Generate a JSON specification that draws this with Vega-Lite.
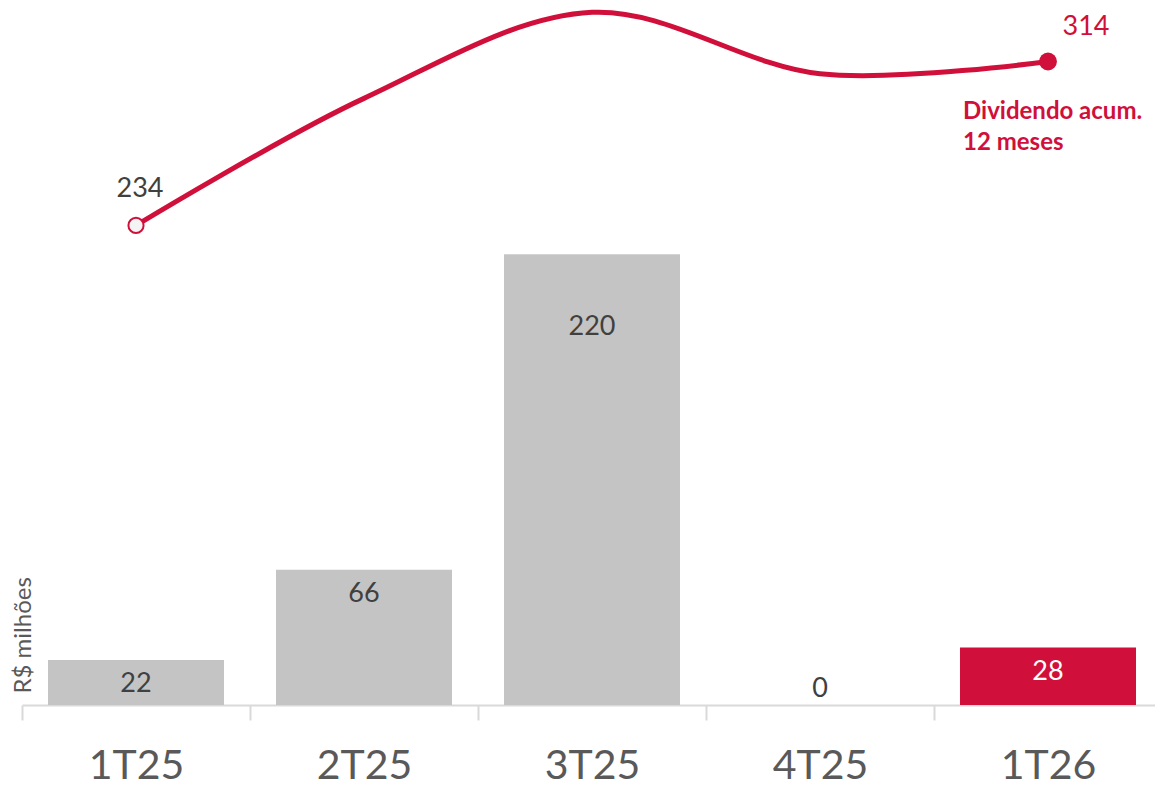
{
  "$schema": "https://vega.github.io/schema/vega-lite/v6.json",
  "autosize": "none",
  "width": 1140,
  "height": 705,
  "padding": {"left": 22, "top": 0, "right": 0, "bottom": 81},
  "background": "white",
  "config": {"view": {"stroke": null}, "font": "Lato"},
  "data": {"values": [
    {"q": "1T25", "div": 22, "acum": 234},
    {"q": "2T25", "div": 66, "acum": 296},
    {"q": "3T25", "div": 220, "acum": 338},
    {"q": "4T25", "div": 0, "acum": 308},
    {"q": "1T26", "div": 28, "acum": 314}
  ]},
  "encoding": {
    "x": {"field": "q", "type": "nominal", "sort": null,
      "scale": {"paddingInner": 0, "paddingOuter": 0},
      "axis": {"title": null, "labelAngle": 0, "labelFontSize": 41, "labelColor": "#595959", "labelFont": "Lato",
        "domainColor": "#d9d9d9", "domainWidth": 2, "tickColor": "#d9d9d9", "tickWidth": 2, "tickSize": 15,
        "tickBand": "extent", "labelPadding": 26}}
  },
  "layer": [
    {
      "mark": {"type": "bar", "width": {"band": 0.772}},
      "encoding": {
        "y": {"field": "div", "type": "quantitative", "scale": {"domain": [0, 344], "nice": false, "zero": true},
          "axis": {"title": "R$ milhões", "labels": false, "ticks": false, "domain": false, "grid": false,
            "titleFontSize": 24, "titleFontWeight": "normal", "titleColor": "#595959", "titleFont": "Lato",
            "titleAngle": 270, "titleX": 1, "titleY": 693, "titleAlign": "left", "titleBaseline": "middle"}},
        "color": {"condition": {"test": "datum.q === '1T26'", "value": "#D0103A"}, "value": "#C4C4C4"}
      }
    },
    {
      "transform": [{"filter": "datum.div > 0 && datum.div < 200"}],
      "mark": {"type": "text", "fontSize": 27, "baseline": "middle", "dy": 24},
      "encoding": {
        "y": {"field": "div", "type": "quantitative"},
        "text": {"field": "div"},
        "color": {"condition": {"test": "datum.q === '1T26'", "value": "#FFFFFF"}, "value": "#404040"}
      }
    },
    {
      "transform": [{"filter": "datum.div >= 200"}],
      "mark": {"type": "text", "fontSize": 27, "baseline": "middle", "dy": 73, "color": "#404040"},
      "encoding": {
        "y": {"field": "div", "type": "quantitative"},
        "text": {"field": "div"}
      }
    },
    {
      "transform": [{"filter": "datum.div == 0"}],
      "mark": {"type": "text", "fontSize": 27, "baseline": "middle", "dy": -16, "color": "#404040"},
      "encoding": {
        "y": {"field": "div", "type": "quantitative"},
        "text": {"field": "div"}
      }
    },
    {
      "mark": {"type": "line", "interpolate": "catmull-rom", "color": "#D0103A", "strokeWidth": 5, "strokeCap": "round"},
      "encoding": {"y": {"field": "acum", "type": "quantitative"}}
    },
    {
      "transform": [{"filter": "datum.q === '1T25'"}],
      "mark": {"type": "point", "shape": "circle", "filled": true, "fill": "#F4F4F4", "stroke": "#D0103A", "strokeWidth": 2, "size": 230, "opacity": 1},
      "encoding": {"y": {"field": "acum", "type": "quantitative"}}
    },
    {
      "transform": [{"filter": "datum.q === '1T26'"}],
      "mark": {"type": "point", "shape": "circle", "filled": true, "color": "#D0103A", "size": 320, "opacity": 1},
      "encoding": {"y": {"field": "acum", "type": "quantitative"}}
    },
    {
      "transform": [{"filter": "datum.q === '1T25'"}],
      "mark": {"type": "text", "fontSize": 27, "baseline": "middle", "dy": -36, "dx": 4, "color": "#404040"},
      "encoding": {"y": {"field": "acum", "type": "quantitative"}, "text": {"field": "acum"}}
    },
    {
      "transform": [{"filter": "datum.q === '1T26'"}],
      "mark": {"type": "text", "fontSize": 27, "baseline": "middle", "dy": -34, "dx": 38, "color": "#D0103A"},
      "encoding": {"y": {"field": "acum", "type": "quantitative"}, "text": {"field": "acum"}}
    },
    {
      "transform": [{"filter": "datum.q === '1T26'"}],
      "mark": {"type": "text", "fontSize": 24, "fontWeight": "bold", "align": "left", "baseline": "middle", "dx": -85, "dy": 51, "lineHeight": 31, "color": "#D0103A"},
      "encoding": {"y": {"field": "acum", "type": "quantitative"}, "text": {"value": ["Dividendo acum.", "12 meses"]}}
    }
  ]
}
